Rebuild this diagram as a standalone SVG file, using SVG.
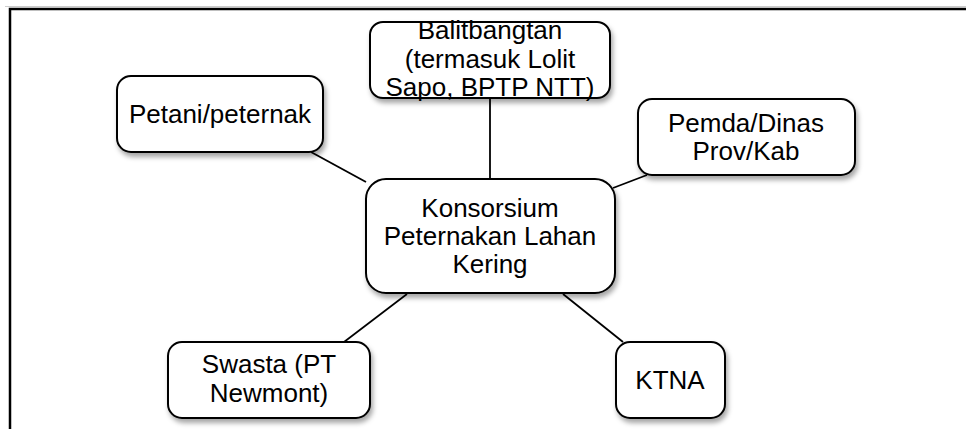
<svg xmlns="http://www.w3.org/2000/svg" width="966" height="429" viewBox="0 0 966 429">
<defs>
<filter id="sh" x="-10%" y="-10%" width="130%" height="140%">
<feDropShadow dx="2" dy="4" stdDeviation="2.5" flood-color="#000" flood-opacity="0.35"/>
</filter>
</defs>
<style>
.box{fill:#fff;stroke:#000;stroke-width:2;filter:url(#sh)}
.t{font-family:"Liberation Sans",Arial,sans-serif;font-size:26px;fill:#000;text-anchor:middle}
.c{stroke:#000;stroke-width:1.8;fill:none}
</style>
<rect width="966" height="429" fill="#fff"/>
<path d="M10,429 V9 H966" fill="none" stroke="#000" stroke-width="2.5"/>
<line x1="5" y1="6.5" x2="966" y2="6.5" stroke="#ccc" stroke-width="1"/>
<g id="connectors">
<line class="c" x1="490" y1="98" x2="490" y2="179"/>
<line class="c" x1="311" y1="152" x2="366" y2="182"/>
<line class="c" x1="647" y1="175" x2="613" y2="188"/>
<line class="c" x1="407" y1="294" x2="344" y2="342"/>
<line class="c" x1="563" y1="294" x2="623" y2="342"/>
</g>
<g id="balitbangtan">
<rect class="box" x="370" y="22" width="240" height="76" rx="13"/>
<text class="t" x="490" y="39">Balitbangtan</text>
<text class="t" x="490" y="68">(termasuk Lolit</text>
<text class="t" x="490" y="96">Sapo, BPTP NTT)</text>
</g>
<g id="petani">
<rect class="box" x="117" y="76" width="206" height="76" rx="14"/>
<text class="t" x="220" y="123">Petani/peternak</text>
</g>
<g id="pemda">
<rect class="box" x="638" y="99" width="217" height="76" rx="14"/>
<text class="t" x="746" y="132">Pemda/Dinas</text>
<text class="t" x="746" y="160">Prov/Kab</text>
</g>
<g id="konsorsium">
<rect class="box" x="366" y="179" width="249" height="114" rx="20"/>
<text class="t" x="490" y="217">Konsorsium</text>
<text class="t" x="490" y="245">Peternakan Lahan</text>
<text class="t" x="490" y="273">Kering</text>
</g>
<g id="swasta">
<rect class="box" x="168" y="342" width="202" height="76" rx="14"/>
<text class="t" x="269" y="373">Swasta (PT</text>
<text class="t" x="269" y="402">Newmont)</text>
</g>
<g id="ktna">
<rect class="box" x="616" y="342" width="109" height="76" rx="14"/>
<text class="t" x="670" y="389">KTNA</text>
</g>
</svg>
